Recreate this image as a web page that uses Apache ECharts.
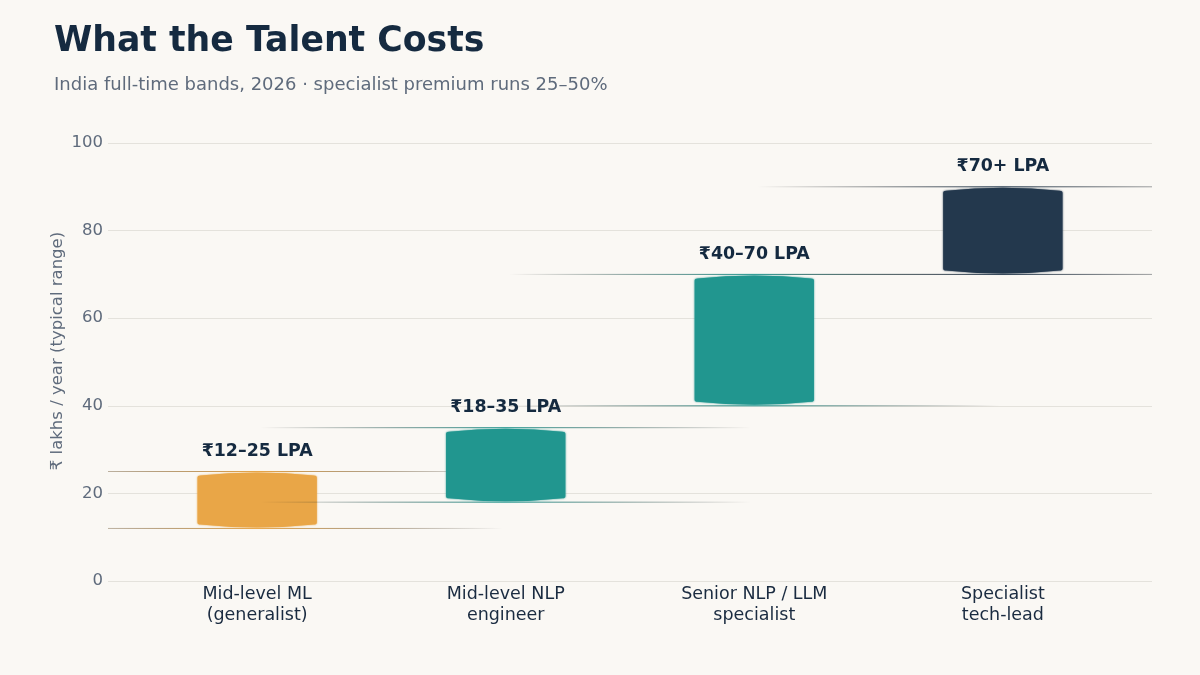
<!DOCTYPE html>
<html>
<head>
<meta charset="utf-8">
<style>
  html, body { margin: 0; padding: 0; background: #faf8f4; }
  #chart { width: 1200px; height: 675px; }
</style>
<script src="https://cdn.jsdelivr.net/npm/echarts@6/dist/echarts.min.js"></script>
</head>
<body>
<div id="chart"></div>
<script>
  // 数据
  const categories = ['Mid-level ML\n(generalist)', 'Mid-level NLP\nengineer', 'Senior NLP / LLM\nspecialist', 'Specialist\ntech-lead']
  const lows = [12, 18, 40, 70]
  const highs = [25, 35, 70, 90]
  const bandLabels = ['₹12–25 LPA', '₹18–35 LPA', '₹40–70 LPA', '₹70+ LPA']
  const yTicks = [0, 20, 40, 60, 80, 100]

  const colors = ['#e9a647', '#21968f', '#23384d']
  const barColor = (i) => (i === 0 ? colors[0] : i === 3 ? colors[2] : colors[1])

  const font = 'DejaVu Sans'
  const chart = echarts.init(document.getElementById('chart'))

  // 渐变横线（上下沿）
  const edgeLine = (x, y, color) => ({
    type: 'line',
    silent: true,
    shape: { x1: x - 245, y1: y, x2: x + 245, y2: y },
    style: {
      lineWidth: 1,
      stroke: new echarts.graphic.LinearGradient(0, 0, 1, 0, [
        { offset: 0, color: 'rgba(0,0,0,0)' },
        { offset: 0.5, color: color },
        { offset: 1, color: 'rgba(0,0,0,0)' }
      ])
    }
  })

  // 柱体：上下两端略微外凸
  const bandPath = (l, r, t, b) => {
    const cx = (l + r) / 2
    const k = 3
    return 'M' + l + ',' + (t + k + 2) +
      ' Q' + l + ',' + (t + k) + ' ' + (l + 3) + ',' + (t + k) +
      ' Q' + cx + ',' + (t - k) + ' ' + (r - 3) + ',' + (t + k) +
      ' Q' + r + ',' + (t + k) + ' ' + r + ',' + (t + k + 2) +
      ' L' + r + ',' + (b - k - 2) +
      ' Q' + r + ',' + (b - k) + ' ' + (r - 3) + ',' + (b - k) +
      ' Q' + cx + ',' + (b + k) + ' ' + (l + 3) + ',' + (b - k) +
      ' Q' + l + ',' + (b - k) + ' ' + l + ',' + (b - k - 2) + ' Z'
  }

  const renderBand = (params, api) => {
    const i = api.value(0)
    const top = api.coord([i, api.value(2)])
    const bottom = api.coord([i, api.value(1)])
    const w = api.size([1, 0])[0] * 0.48
    const c = barColor(i)
    const cs = params.coordSys
    const l = top[0] - w / 2
    const r = top[0] + w / 2
    const clip = { type: 'rect', shape: { x: cs.x, y: cs.y - 5, width: cs.width, height: cs.height + 10 } }
    return {
      type: 'group',
      children: [
        Object.assign(edgeLine(top[0], top[1], c), { clipPath: clip }),
        Object.assign(edgeLine(bottom[0], bottom[1], c), { clipPath: echarts.util.clone(clip) }),
        {
          type: 'path',
          shape: { pathData: bandPath(l, r, top[1] + 1, bottom[1] - 1) },
          style: { fill: c, shadowBlur: 2, shadowColor: c }
        },
        {
          type: 'text',
          style: {
            x: top[0], y: top[1] - 20,
            text: bandLabels[i],
            align: 'center', verticalAlign: 'middle',
            fontFamily: font, fontSize: 17.4, fontWeight: 'bold',
            fill: '#152a40'
          }
        }
      ]
    }
  }

  const options = {
    backgroundColor: '#faf8f4',
    animation: false,
    title: {
      text: 'What the Talent Costs',
      subtext: 'India full-time bands, 2026 · specialist premium runs 25–50%',
      left: 49,
      top: 19,
      itemGap: 17,
      textStyle: { fontFamily: font, fontSize: 34.7, fontWeight: 'bold', color: '#152a40' },
      subtextStyle: { fontFamily: font, fontSize: 18, color: '#5f6b7c' }
    },
    grid: { left: 108, right: 48, top: 143, bottom: 94 },
    xAxis: {
      type: 'value',
      min: -0.6,
      max: 3.6,
      axisLine: { show: false },
      axisTick: { show: false },
      splitLine: { show: false },
      axisLabel: {
        customValues: [0, 1, 2, 3],
        formatter: (v) => categories[Math.round(v)],
        fontFamily: font, fontSize: 17.5, color: '#1a2b40', lineHeight: 21, margin: 3
      }
    },
    yAxis: {
      type: 'value',
      min: yTicks[0],
      max: yTicks[yTicks.length - 1],
      interval: 20,
      name: '₹ lakhs / year (typical range)',
      nameLocation: 'middle',
      nameGap: 42,
      nameMoveOverlap: false,
      nameTextStyle: { fontFamily: font, fontSize: 16.5, color: '#5f6b7c', padding: [0, 0, 0, 22] },
      axisLine: { show: false },
      axisTick: { show: false },
      axisLabel: { fontFamily: font, fontSize: 16.5, color: '#5f6b7c', margin: 5, padding: [3, 0, 0, 0] },
      splitLine: { lineStyle: { color: '#e4e2dc', width: 1 } }
    },
    series: [{
      type: 'custom',
      renderItem: renderBand,
      clip: false,
      encode: { x: 0, y: [1, 2] },
      data: categories.map((c, i) => [i, lows[i], highs[i]])
    }]
  }

  chart.setOption(options)
</script>
</body>
</html>
